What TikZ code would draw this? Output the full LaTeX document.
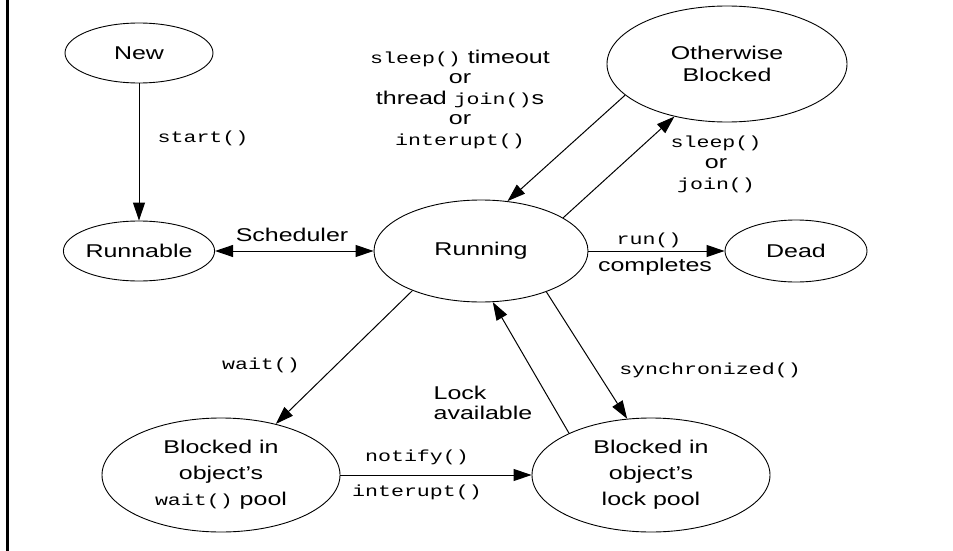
\documentclass[tikz,border=0pt]{standalone}
\usepackage{fontspec}
\newfontfamily\lsans[FakeStretch=1.35]{Liberation Sans}
\newfontfamily\lmono[FakeStretch=1.35]{Liberation Mono}
\usetikzlibrary{arrows.meta,shapes.geometric}
\newcommand\mcode[1]{{\lmono\fontsize{16}{20}\selectfont #1}}
\begin{document}
\begin{tikzpicture}[x=1pt,y=-1pt,
  state/.style={ellipse, draw, line width=0.9pt, inner sep=0pt, align=center,
    font=\lsans\fontsize{18.5}{26}\selectfont},
  lbl/.style={inner sep=0pt, align=center, font=\lsans\fontsize{18.5}{20.5}\selectfont},
  tr/.style={line width=1pt, -{Triangle[length=18pt,width=12pt]}},
  dtr/.style={line width=1pt, {Triangle[length=18pt,width=12pt]}-{Triangle[length=18pt,width=12pt]}}]
\useasboundingbox (0,0) rectangle (953,551);
\fill[white] (0,0) rectangle (953,551);
\draw[line width=2.5pt] (7.5,0) -- (7.5,551);

\node[state, minimum width=148pt, minimum height=60pt] (new) at (139,53) {New};
\node[state, minimum width=142pt, minimum height=60pt] (runnable) at (139,251) {Runnable};
\node[state, minimum width=214pt, minimum height=102pt] (running) at (481,251) {Running};
\node[state, minimum width=240pt, minimum height=116pt, font=\lsans\fontsize{18.5}{22}\selectfont] (other) at (727,64) {Otherwise\\Blocked};
\node[state, minimum width=142pt, minimum height=62pt] (dead) at (796,251) {Dead};
\node[state, minimum width=238pt, minimum height=114pt] (waitpool) at (221,475) {Blocked in\\object’s\\\mcode{wait()} pool};
\node[state, minimum width=238pt, minimum height=114pt] (lockpool) at (651,475) {Blocked in\\object’s\\lock pool};

\node[lbl] (lstart) at (203,138) {\mcode{start()}};
\node[lbl] (lsched) at (292,235) {Scheduler};
\node[lbl] (ltop) at (460,99) {\mcode{sleep()} timeout\\or\\thread \mcode{join()}s\\or\\\mcode{interupt()}};
\node[lbl, font=\lsans\fontsize{18.5}{21}\selectfont] (lsleep) at (716,164) {\mcode{sleep()}\\or\\\mcode{join()}};
\node[lbl] (lrun) at (649,240) {\mcode{run()}};
\node[lbl] (lcomp) at (655,267) {completes};
\node[lbl] (lwait) at (261,365) {\mcode{wait()}};
\node[lbl, align=left] (llock) at (483,403) {Lock\\available};
\node[lbl] (lnotify) at (417,457) {\mcode{notify()}};
\node[lbl] (linter) at (417,492) {\mcode{interupt()}};
\node[lbl] (lsync) at (710,370) {\mcode{synchronized()}};

\draw[tr] (new.south) -- (runnable.north);
\draw[dtr] (runnable.east) -- (running.west);
\draw[tr] (running.22) -- (other.225);
\draw[tr] (other.197) -- (running.62);
\draw[tr] (running.east) -- (dead.west);
\draw[tr] (running.210) -- (waitpool.43);
\draw[tr] (lockpool.153) -- (running.283);
\draw[tr] (running.328) -- (lockpool.113);
\draw[tr] (waitpool.east) -- (lockpool.west);
\end{tikzpicture}
\end{document}
